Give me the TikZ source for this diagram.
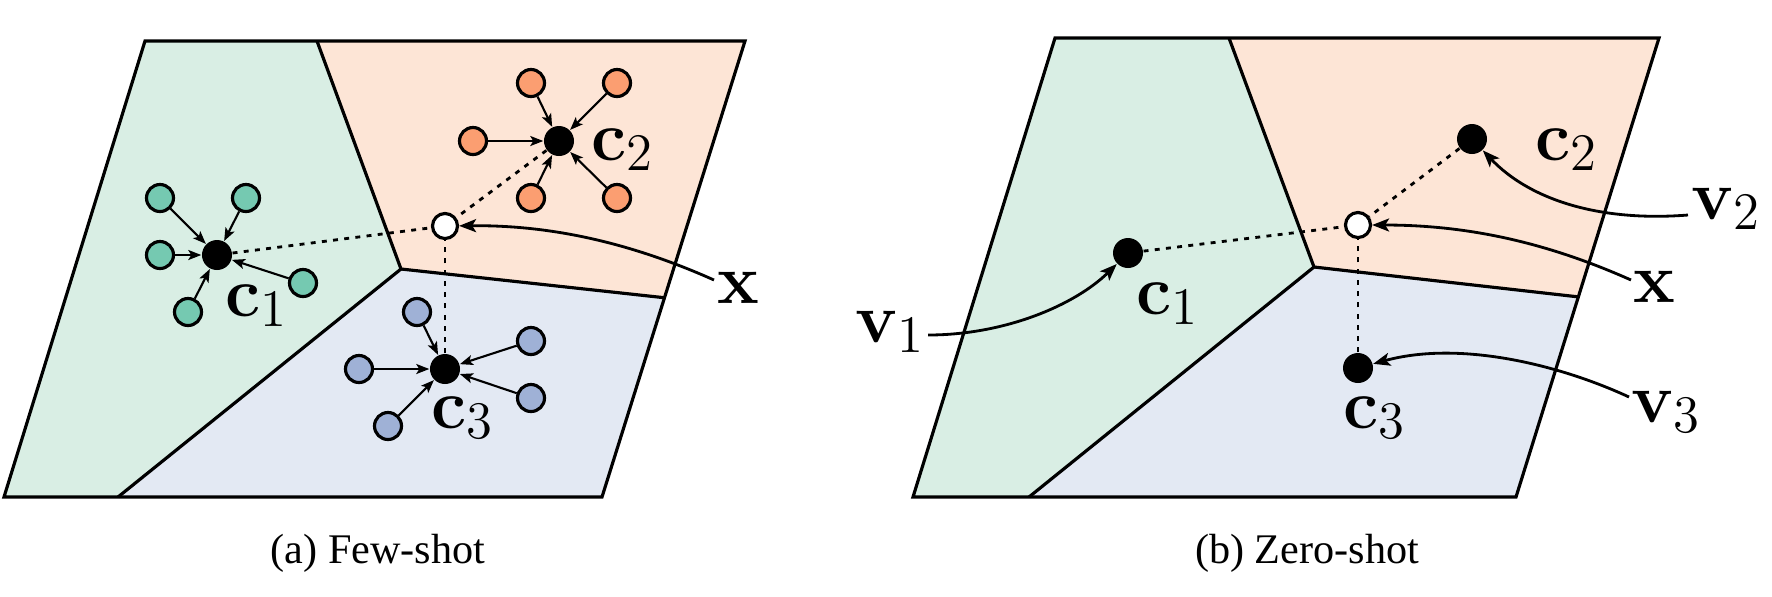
\documentclass[tikz,border=0pt]{standalone}
\usepackage{fix-cm}
\usepackage[no-math]{fontspec}
\newfontfamily\capfont{Liberation Serif}
\usetikzlibrary{arrows.meta,calc}
\DeclareMathSizes{20}{20}{15}{11}
\definecolor{gfill}{HTML}{D9EEE4}
\definecolor{ofill}{HTML}{FDE5D6}
\definecolor{bfill}{HTML}{E3E9F3}
\definecolor{gdot}{HTML}{75C9B1}
\definecolor{odot}{HTML}{FB9E71}
\definecolor{bdot}{HTML}{9FB1D6}
\tikzset{
  sat/.style={circle, draw=black, line width=0.9pt, minimum size=0.27cm, inner sep=0pt},
  cen/.style={circle, fill=black, minimum size=0.30cm, inner sep=0pt},
  xpt/.style={circle, draw=black, fill=white, line width=0.9pt, minimum size=0.25cm, inner sep=0pt},
  sarrow/.style={-{Stealth[length=1.3mm,width=1mm,inset=0.3mm]}, line width=0.6pt},
  dotline/.style={line width=0.8pt, dash pattern=on 1.4pt off 1.8pt},
  bigarrow/.style={-{Stealth[length=1.7mm,width=1.3mm,inset=0.4mm]}, line width=0.8pt},
  region/.style={line width=0.9pt},
  clab/.style={inner sep=0pt, anchor=base west, font=\fontsize{20}{22}\selectfont},
  vlab/.style={inner sep=0pt, anchor=base west, font=\fontsize{20}{22}\selectfont},
  captxt/.style={inner sep=0pt, font=\capfont\fontsize{12}{14}\selectfont}
}
\begin{document}
\begin{tikzpicture}[x=0.01cm, y=-0.01cm]
\useasboundingbox (0,0) rectangle (1772,596);
% ---------------- left panel ----------------
\coordinate (LTL) at (145,41);
\coordinate (LTD) at (317,41);
\coordinate (LTR) at (745,41);
\coordinate (LBR) at (602,497);
\coordinate (LBL) at (4,497);
\coordinate (LBD) at (118,497);
\coordinate (LJ) at (401,269);
\coordinate (LRD) at ($(LTR)!0.563!(LBR)$);
\fill[gfill] (LTL)--(LTD)--(LJ)--(LBD)--(LBL)--cycle;
\fill[ofill] (LTD)--(LTR)--(LRD)--(LJ)--cycle;
\fill[bfill] (LJ)--(LRD)--(LBR)--(LBD)--cycle;
\draw[region] (LTL)--(LTR)--(LBR)--(LBL)--cycle;
\draw[region] (LTD)--(LJ)--(LBD);
\draw[region] (LJ)--(LRD);

\node[cen] (lc1) at (217,255) {};
\node[cen] (lc2) at (559,141) {};
\node[cen] (lc3) at (445,369) {};
\node[xpt] (lx) at (445,226) {};

\node[sat, fill=gdot] (g1) at (160,198) {};
\node[sat, fill=gdot] (g2) at (246,198) {};
\node[sat, fill=gdot] (g3) at (160,255) {};
\node[sat, fill=gdot] (g4) at (303,283) {};
\node[sat, fill=gdot] (g5) at (188,312) {};
\node[sat, fill=odot] (o1) at (531,83) {};
\node[sat, fill=odot] (o2) at (617,83) {};
\node[sat, fill=odot] (o3) at (473,141) {};
\node[sat, fill=odot] (o4) at (531,198) {};
\node[sat, fill=odot] (o5) at (617,198) {};
\node[sat, fill=bdot] (b1) at (417,312) {};
\node[sat, fill=bdot] (b2) at (531,341) {};
\node[sat, fill=bdot] (b3) at (359,369) {};
\node[sat, fill=bdot] (b4) at (531,398) {};
\node[sat, fill=bdot] (b5) at (388,426) {};

\foreach \s in {g1,g2,g3,g4,g5} \draw[sarrow] (\s) -- (lc1);
\foreach \s in {o1,o2,o3,o4,o5} \draw[sarrow] (\s) -- (lc2);
\foreach \s in {b1,b2,b3,b4,b5} \draw[sarrow] (\s) -- (lc3);

\draw[dotline] (lc1) -- (lx);
\draw[dotline] (lc2) -- (lx);
\draw[dotline] (lc3) -- (lx);

\node[clab] (lc1l) at (225,316) {$\mathbf{c}_1$};
\node[clab] (lc2l) at (591,160) {$\mathbf{c}_2$};
\node[clab] (lc3l) at (431,428) {$\mathbf{c}_3$};
\node[vlab] (lxl) at (717,303) {$\mathbf{x}$};
\coordinate (lxs) at (714,280);
\draw[bigarrow] (lxs) .. controls (620,238) and (540,225) .. (lx);

\node[captxt] (capa) at (378,553) {(a) Few-shot};

% ---------------- right panel ----------------
\coordinate (RTL) at (1055,38);
\coordinate (RTD) at (1229,38);
\coordinate (RTR) at (1659,38);
\coordinate (RBR) at (1516,497);
\coordinate (RBL) at (913,497);
\coordinate (RBD) at (1029,497);
\coordinate (RJ) at (1314,267);
\coordinate (RRD) at ($(RTR)!0.564!(RBR)$);
\fill[gfill] (RTL)--(RTD)--(RJ)--(RBD)--(RBL)--cycle;
\fill[ofill] (RTD)--(RTR)--(RRD)--(RJ)--cycle;
\fill[bfill] (RJ)--(RRD)--(RBR)--(RBD)--cycle;
\draw[region] (RTL)--(RTR)--(RBR)--(RBL)--cycle;
\draw[region] (RTD)--(RJ)--(RBD);
\draw[region] (RJ)--(RRD);

\node[cen] (rc1) at (1128,253) {};
\node[cen] (rc2) at (1472,139) {};
\node[cen] (rc3) at (1358,368) {};
\node[xpt] (rx) at (1358,225) {};

\draw[dotline] (rc1) -- (rx);
\draw[dotline] (rc2) -- (rx);
\draw[dotline] (rc3) -- (rx);

\node[clab] (rc1l) at (1136,314) {$\mathbf{c}_1$};
\node[clab] (rc2l) at (1535,160) {$\mathbf{c}_2$};
\node[clab] (rc3l) at (1343,428) {$\mathbf{c}_3$};
\node[vlab] (rxl) at (1633,302) {$\mathbf{x}$};
\node[vlab] (v1l) at (855,342) {$\mathbf{v}_1$};
\node[vlab] (v2l) at (1691,219) {$\mathbf{v}_2$};
\node[vlab] (v3l) at (1631,422) {$\mathbf{v}_3$};

\coordinate (rxs) at (1631,280);
\coordinate (v1s) at (928,335);
\coordinate (v2s) at (1688,215);
\coordinate (v3s) at (1629,397);
\draw[bigarrow] (rxs) .. controls (1537,238) and (1457,225) .. (rx);
\draw[bigarrow] (v1s) .. controls (1005,335) and (1075,305) .. (rc1);
\draw[bigarrow] (v2s) .. controls (1600,222) and (1530,200) .. (rc2);
\draw[bigarrow] (v3s) .. controls (1560,365) and (1460,340) .. (rc3);

\node[captxt] (capb) at (1307,553) {(b) Zero-shot};
\end{tikzpicture}
\end{document}
